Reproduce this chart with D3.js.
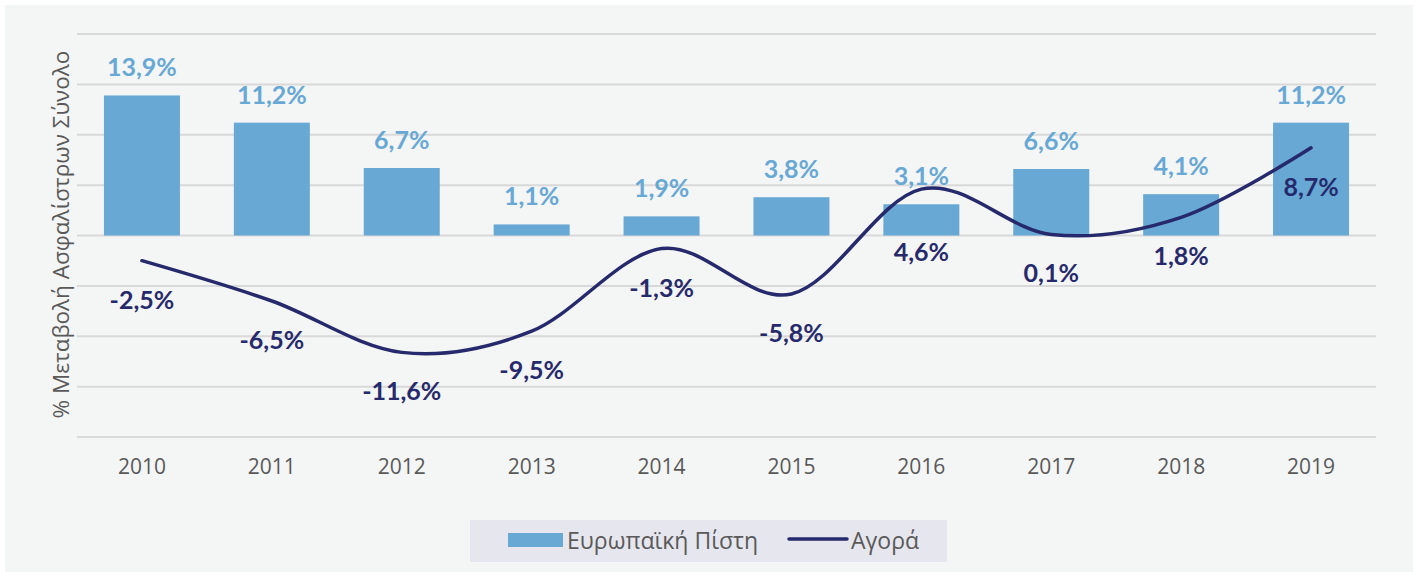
<!DOCTYPE html>
<html>
<head>
<meta charset="utf-8">
<script src="https://cdn.jsdelivr.net/npm/d3@7"></script>
<style>
  body { margin: 0; background: #ffffff; }
  svg { display: block; }
</style>
</head>
<body>
<svg id="chart" width="1416" height="576"></svg>
<script>
// data
const years = ['2010', '2011', '2012', '2013', '2014', '2015', '2016', '2017', '2018', '2019'];
const pistiValues = [13.9, 11.2, 6.7, 1.1, 1.9, 3.8, 3.1, 6.6, 4.1, 11.2];
const agoraValues = [-2.5, -6.5, -11.6, -9.5, -1.3, -5.8, 4.6, 0.1, 1.8, 8.7];
const yTicks = [-20, -15, -10, -5, 0, 5, 10, 15, 20];
const seriesNames = ['Ευρωπαϊκή Πίστη', 'Αγορά'];
const yTitle = '% Μεταβολή Ασφαλίστρων Σύνολο';

const chartHelpers = {
  width: 1416,
  height: 576,
  margins: { top: 34, left: 77, right: 40, bottom: 140 },
  barColor: '#67a8d5',
  lineColor: '#262a6c',
  gridColor: '#d9d9d9',
  textColor: '#595959',
  bg: '#f4f5f5',
  font: "'Open Sans', 'Noto Sans', sans-serif",
  labelFont: "Lato, 'Noto Sans', sans-serif"
};

// comma decimals and a plain hyphen for negatives, as in the original
const fmt = v => (v < 0 ? '-' : '') + Math.abs(v).toFixed(1).replace('.', ',') + '%';

const svg = d3.select('#chart');
const m = chartHelpers.margins;
const plotW = chartHelpers.width - m.left - m.right;
const plotH = 437 - m.top;

svg.append('rect')
  .attr('x', 5).attr('y', 5)
  .attr('width', chartHelpers.width - 8).attr('height', chartHelpers.height - 9)
  .attr('fill', chartHelpers.bg);

const x = d3.scaleBand().domain(years).range([0, plotW]).paddingInner(0.415).paddingOuter(0.2075);
const y = d3.scaleLinear().domain([-20, 20]).range([plotH, 0]);

const g = svg.append('g').attr('transform', 'translate(' + m.left + ',' + m.top + ')');

// grid
g.selectAll('line.grid')
  .data(yTicks)
  .enter().append('line')
  .attr('class', 'grid')
  .attr('x1', 0).attr('x2', plotW)
  .attr('y1', d => y(d)).attr('y2', d => y(d))
  .attr('stroke', chartHelpers.gridColor)
  .attr('stroke-width', 2);

// x axis labels
const xAxis = d3.axisBottom(x).tickSize(0).tickPadding(22);
const xg = g.append('g')
  .attr('transform', 'translate(0,' + plotH + ')')
  .call(xAxis);
xg.select('.domain').remove();
xg.selectAll('text')
  .attr('fill', chartHelpers.textColor)
  .style('font-family', chartHelpers.font)
  .style('font-size', '21px');

// bars
g.selectAll('rect.bar')
  .data(pistiValues)
  .enter().append('rect')
  .attr('class', 'bar')
  .attr('x', (d, i) => x(years[i]))
  .attr('width', x.bandwidth())
  .attr('y', d => y(Math.max(0, d)))
  .attr('height', d => Math.abs(y(d) - y(0)))
  .attr('fill', chartHelpers.barColor);

// line
const line = d3.line()
  .x((d, i) => x(years[i]) + x.bandwidth() / 2)
  .y(d => y(d))
  .curve(d3.curveCardinal.tension(0));

g.append('path')
  .datum(agoraValues)
  .attr('d', line)
  .attr('fill', 'none')
  .attr('stroke', chartHelpers.lineColor)
  .attr('stroke-width', 3.5)
  .attr('stroke-linecap', 'round');

// bar labels
g.selectAll('text.barLabel')
  .data(pistiValues)
  .enter().append('text')
  .attr('class', 'barLabel')
  .attr('x', (d, i) => x(years[i]) + x.bandwidth() / 2)
  .attr('y', d => y(d) - 19)
  .attr('text-anchor', 'middle')
  .attr('fill', chartHelpers.barColor)
  .style('font-family', chartHelpers.labelFont)
  .style('font-weight', 'bold')
  .style('font-size', '25px')
  .text(fmt);

// line labels, pushed under the zero line when the point sits above its bar
g.selectAll('text.lineLabel')
  .data(agoraValues)
  .enter().append('text')
  .attr('class', 'lineLabel')
  .attr('x', (d, i) => x(years[i]) + x.bandwidth() / 2)
  .attr('y', (d, i) => d > pistiValues[i] ? y(0) + 25 : y(d) + 48)
  .attr('text-anchor', 'middle')
  .attr('fill', chartHelpers.lineColor)
  .style('font-family', chartHelpers.labelFont)
  .style('font-weight', 'bold')
  .style('font-size', '25px')
  .text(fmt);

// y title
svg.append('text')
  .attr('transform', 'translate(69,' + (m.top + plotH / 2 - 1) + ') rotate(-90)')
  .attr('text-anchor', 'middle')
  .attr('fill', chartHelpers.textColor)
  .style('font-family', chartHelpers.font)
  .style('font-size', '22.5px')
  .text(yTitle);

// legend
const legend = svg.append('g');
legend.append('rect')
  .attr('x', 470).attr('y', 520)
  .attr('width', 477).attr('height', 42)
  .attr('fill', '#e6e6ee');
legend.append('rect')
  .attr('x', 508).attr('y', 533)
  .attr('width', 55).attr('height', 14)
  .attr('fill', chartHelpers.barColor);
legend.append('text')
  .attr('x', 567).attr('y', 549)
  .attr('fill', chartHelpers.textColor)
  .style('font-family', chartHelpers.font)
  .style('font-size', '23px')
  .text(seriesNames[0]);
legend.append('line')
  .attr('x1', 789).attr('x2', 847)
  .attr('y1', 539).attr('y2', 539)
  .attr('stroke', chartHelpers.lineColor)
  .attr('stroke-width', 3.5)
  .attr('stroke-linecap', 'round');
legend.append('text')
  .attr('x', 851).attr('y', 549)
  .attr('fill', chartHelpers.textColor)
  .style('font-family', chartHelpers.font)
  .style('font-size', '23px')
  .text(seriesNames[1]);
</script>
</body>
</html>
